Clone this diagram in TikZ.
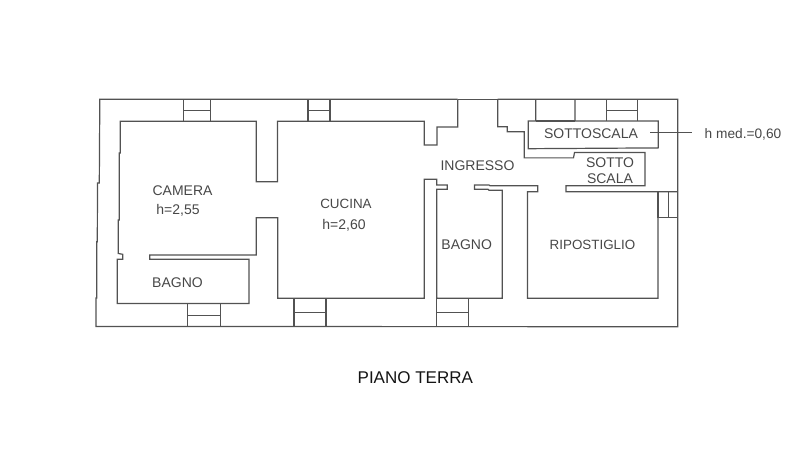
\documentclass[tikz,border=0pt]{standalone}
\usepackage{fontspec}
\setmainfont{Liberation Sans}
\tikzset{
  wall/.style={draw=black!68,line width=1.2pt,line join=miter},
  thin wall/.style={draw=black!68,line width=1.1pt},
  lab/.style={text=black!72,font=\fontsize{14}{16}\selectfont,inner sep=0pt,align=center},
  labn/.style={text=black!72,font=\fontsize{13.4}{16}\selectfont,inner sep=0pt,align=center},
  small/.style={text=black!72,font=\fontsize{13.7}{15}\selectfont,inner sep=0pt},
  title/.style={text=black!92,font=\fontsize{17}{20}\selectfont,inner sep=0pt}
}
\begin{document}
\begin{tikzpicture}[x=1pt,y=-1pt]
\useasboundingbox (0,0) rectangle (800,473);
% outer wall
\draw[wall] (457.7,99.3) -- (99.8,99.3) -- (99.3,183) -- (97.5,183) -- (97.3,241.7) -- (96.7,241.7) -- (96.7,298) -- (96,298) -- (96,326.5) -- (677.7,326.7) -- (677.7,99.3) -- (497.7,99.3);
\draw[wall] (457.7,99.3) -- (497.7,99.3);
% camera, bagno, cucina inner contour
\draw[wall] (457.7,99.3) -- (457.7,127) -- (437,127) -- (437,145) -- (424.3,145) -- (424.3,121.3) -- (277.5,121.3)
  -- (277.5,181.7) -- (256.3,181.7) -- (256.3,121.3) -- (120.3,121.3) -- (120.3,153) -- (119.3,153) -- (119.3,220) -- (118.3,220) -- (118.3,253.5) -- (122.7,254.3) -- (122.7,259.3) -- (117.3,259.3)
  -- (117.3,303.5) -- (249,303.5) -- (249,259.3) -- (149.7,259.3) -- (149.7,255) -- (256.3,255) -- (256.3,217.7)
  -- (277.7,217.7) -- (277.7,298.3) -- (424.3,298.3) -- (424.3,179.3) -- (436.7,179.3) -- (436.7,185) -- (447.3,185)
  -- (447.3,189.3) -- (436.7,189.3) -- (436.7,298.3) -- (502.3,298.3) -- (502.3,190.3) -- (489,190.3) -- (488,189.3)
  -- (474.5,189.3) -- (474.5,185) -- (489,185) -- (490,185.7) -- (537.7,185.7) -- (537.7,191.7) -- (527.5,191.7) -- (527.5,298.3) -- (658,298.3)
  -- (658,191.7);
\draw[wall] (677.7,191.7) -- (566,191.7) -- (566,185.7) -- (645,185.7) -- (645,152.5) -- (574.5,152.5) -- (573.5,157.9) -- (524.2,157.9)
  -- (524.2,131.7) -- (507.3,131.7) -- (507.3,126.7) -- (497.7,126.7) -- (497.7,99.3);
% sottoscala
\draw[wall] (535.7,99.3) -- (535.7,121) -- (528.3,121) -- (528.3,148.7) -- (658.3,147.9) -- (658.3,121) -- (575,121) -- (575,99.3);
\draw[wall] (575,121) -- (535.7,121);
% windows
\draw[thin wall] (183.7,99.3) -- (183.7,121.3) (210.3,99.3) -- (210.3,121.3) (183.7,110.3) -- (210.3,110.3);
\draw[thin wall] (308,99.3) -- (308,121.3) (330,99.3) -- (330,121.3) (308,110.3) -- (330,110.3);
\draw[thin wall] (606.3,99.3) -- (606.3,121) (637.7,99.3) -- (637.7,121) (606.3,110.3) -- (637.7,110.3);
\draw[thin wall] (187.3,303.5) -- (187.3,326.5) (220.3,303.5) -- (220.3,326.5) (187.3,315.3) -- (220.3,315.3);
\draw[thin wall] (294,298.3) -- (294,326.5) (326,298.3) -- (326,326.5) (294,312.7) -- (326,312.7);
\draw[thin wall] (436.7,298.3) -- (436.7,326.5) (468.3,298.3) -- (468.3,326.5) (436.7,312.3) -- (468.3,312.3);
\draw[thin wall] (658,191.7) -- (658,217.3) -- (677.7,217.3) (668.3,191.7) -- (668.3,217.3);
% labels
\node[lab] (camera) at (182.5,191) {CAMERA};
\node[lab] (hcam) at (178,210.5) {h=2,55};
\node[lab] (bagnoa) at (177.5,282.5) {BAGNO};
\node[labn] (cucina) at (346,203.5) {CUCINA};
\node[lab] (hcuc) at (344,225.5) {h=2,60};
\node[lab] (ingresso) at (477.5,165.5) {INGRESSO};
\node[lab] (sottoscala) at (591,133.5) {SOTTOSCALA};
\node[lab] (sotto) at (610,163) {SOTTO};
\node[lab] (scala) at (610,178.5) {SCALA};
\node[lab] (bagnob) at (466.7,245) {BAGNO};
\node[labn] (ripostiglio) at (592.5,245) {RIPOSTIGLIO};
\node[small] (hmed) at (743,134) {h med.=0,60};
\node[title] (piano) at (415.3,378) {PIANO TERRA};
% leader
\coordinate (leadera) at (650,132.7);
\coordinate (leaderb) at (692.3,132.7);
\draw[thin wall] (leadera) -- (leaderb);
\end{tikzpicture}
\end{document}
